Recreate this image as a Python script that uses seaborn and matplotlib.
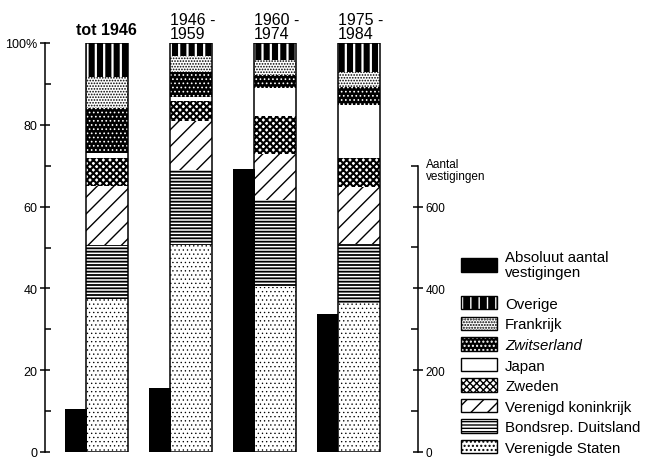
import numpy as np
import matplotlib
matplotlib.use("Agg")
import matplotlib.pyplot as plt
import matplotlib.patches as mpatches
from matplotlib.legend_handler import HandlerTuple
from matplotlib.transforms import blended_transform_factory
import seaborn as sns

# ---------------- data ----------------
periods = ["tot 1946", "1946 -\n1959", "1960 -\n1974", "1975 -\n1984"]
absoluut = [105, 156, 692, 337]          # absolute number of establishments
countries = ["Verenigde Staten", "Bondsrep. Duitsland", "Verenigd koninkrijk",
             "Zweden", "Japan", "Zwitserland", "Frankrijk", "Overige"]
verenigde_staten = [37.3, 50.7, 40.3, 36.4]
duitsland = [13.4, 18.2, 21.4, 14.4]
verenigd_koninkrijk = [14.3, 12.0, 11.1, 13.9]
zweden = [7.0, 4.9, 9.4, 7.3]
japan = [1.1, 1.0, 6.8, 12.8]
zwitserland = [11.1, 6.1, 3.1, 4.4]
frankrijk = [7.5, 4.0, 3.8, 3.7]
overige = [8.3, 3.1, 4.1, 7.1]
pct_ticks = [0, 20, 40, 60, 80, 100]
pct_labels = ["0", "20", "40", "60", "80", "100%"]
pct_minor = [10, 30, 50, 70, 90]
abs_ticks = [0, 200, 400, 600]
abs_labels = ["0", "200", "400", "600"]
abs_minor = [100, 300, 500, 700]
abs_label = "Aantal\nvestigingen"
abs_legend = "Absoluut aantal\nvestigingen"

series = [verenigde_staten, duitsland, verenigd_koninkrijk, zweden,
          japan, zwitserland, frankrijk, overige]

# style: facecolor, hatch colour, hatch, hatch linewidth
styles = {
    "Verenigde Staten": ("white", "black", "....", 0.45),
    "Bondsrep. Duitsland": ("white", "black", "-----", 1.3),
    "Verenigd koninkrijk": ("white", "black", "//", 1.0),
    "Zweden": ("white", "black", "xxxxx", 1.5),
    "Japan": ("white", "white", "", 1.0),
    "Zwitserland": ("black", "white", "....", 0.7),
    "Frankrijk": ("white", "black", "......", 0.8),
    "Overige": ("black", "white", "||", 1.6),
}

# ---------------- figure ----------------
sns.set_style("ticks")
plt.rcParams["font.family"] = ["Liberation Sans", "DejaVu Sans"]
plt.rcParams["text.color"] = "black"
plt.rcParams["axes.edgecolor"] = "black"
plt.rcParams["xtick.color"] = "black"
plt.rcParams["ytick.color"] = "black"

fig = plt.figure(figsize=(6.56, 4.60), dpi=100)
W, H = 656, 460
ax = fig.add_axes([45 / W, 7 / H, 373 / W, 409 / H])
ax2 = ax.twinx()

xpos = np.arange(len(periods))
xabs = xpos - 0.37

# absolute bars (right axis)
sns.barplot(x=xabs, y=absoluut, native_scale=True, orient="x", width=0.26,
            color="black", saturation=1, linewidth=0, errorbar=None, ax=ax2)

# stacked percentage bars: draw cumulative totals from top down
cum = np.cumsum(np.array(series), axis=0)
for k in range(len(countries) - 1, -1, -1):
    name = countries[k]
    face, hcol, hatch, hlw = styles[name]
    with plt.rc_context({"hatch.linewidth": hlw}):
        sns.barplot(x=xpos, y=cum[k], native_scale=True, orient="x", width=0.5,
                    color=face, edgecolor=hcol, hatch=hatch, linewidth=0,
                    saturation=1, errorbar=None, ax=ax, zorder=2)
# outline
sns.barplot(x=xpos, y=cum[-1], native_scale=True, orient="x", width=0.5,
            fill=False, edgecolor="black", linewidth=1.1, errorbar=None,
            ax=ax, zorder=3)

# ---------------- axes ----------------
ax.set_xlim(-0.738, 3.708)
ax.set_ylim(0, 100)
ax2.set_ylim(0, 1000)
ax.set_xticks([])
ax2.set_xticks([])
ax.set_xlabel("")
ax.set_ylabel("")
ax2.set_ylabel("")

for s in ["top", "right", "bottom"]:
    ax.spines[s].set_visible(False)
for s in ["top", "left", "bottom"]:
    ax2.spines[s].set_visible(False)
ax.spines["left"].set_bounds(0, 100)
ax.spines["left"].set_linewidth(1.1)
ax2.spines["right"].set_bounds(0, 700)
ax2.spines["right"].set_linewidth(1.1)

ax.set_yticks(pct_ticks, pct_labels)
ax.set_yticks(pct_minor, minor=True)
ax.tick_params(axis="y", which="major", direction="inout", length=7, width=1.1,
               pad=2, labelsize=9)
ax.tick_params(axis="y", which="minor", direction="in", length=4, width=1.1)

ax2.set_yticks(abs_ticks, abs_labels)
ax2.set_yticks(abs_minor, minor=True)
ax2.tick_params(axis="y", which="major", direction="inout", length=7, width=1.1,
                pad=2, labelsize=8.5)
ax2.tick_params(axis="y", which="minor", direction="in", length=5, width=1.1)

tr = blended_transform_factory(ax2.transAxes, ax2.transData)
ax2.text(1.022, 690, abs_label, transform=tr, ha="left", va="center",
         fontsize=8.5, linespacing=1.0)

# period titles
for i, p in enumerate(periods):
    if i == 0:
        ax.annotate(p, xy=(xpos[i], 100), xytext=(0, 4), textcoords="offset points",
                    ha="center", va="bottom", fontsize=11.5, fontweight="bold",
                    annotation_clip=False)
    else:
        ax.annotate(p, xy=(xpos[i] - 0.25, 100), xytext=(0, 1.5),
                    textcoords="offset points", ha="left", va="bottom",
                    fontsize=11.5, linespacing=0.95, annotation_clip=False)

# ---------------- legends ----------------
leg1 = fig.legend([mpatches.Patch(facecolor="black", edgecolor="black")],
                  [abs_legend], loc="upper left",
                  bbox_to_anchor=(461 / W, 1 - 251 / H), frameon=False,
                  borderpad=0, borderaxespad=0, handlelength=2.4,
                  handleheight=1.15, handletextpad=0.55, fontsize=10.8)
for t in leg1.get_texts():
    t.set_linespacing(1.1)

handles, labels = [], []
for name in countries[::-1]:
    face, hcol, hatch, hlw = styles[name]
    with plt.rc_context({"hatch.linewidth": hlw}):
        fillp = mpatches.Patch(facecolor=face, edgecolor=hcol, hatch=hatch, linewidth=0)
    outl = mpatches.Patch(facecolor="none", edgecolor="black", linewidth=1.0)
    handles.append((fillp, outl))
    labels.append(name)
leg2 = fig.legend(handles, labels, loc="upper left",
                  bbox_to_anchor=(461 / W, 1 - 297 / H), frameon=False,
                  borderpad=0, borderaxespad=0, handlelength=2.4,
                  handleheight=1.0, handletextpad=0.55, labelspacing=0.38,
                  fontsize=10.8, handler_map={tuple: HandlerTuple(ndivide=1, pad=0)})
for t in leg2.get_texts():
    if t.get_text() == "Zwitserland":
        t.set_fontstyle("italic")

fig.savefig("out.png", dpi=100)
